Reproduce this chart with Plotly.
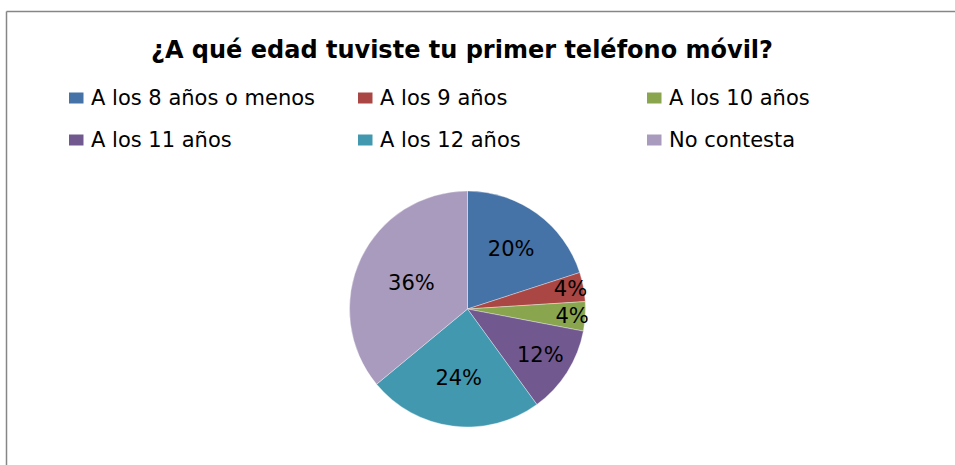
import plotly.graph_objects as go

W, H = 955, 465

title = "¿A qué edad tuviste tu primer teléfono móvil?"
categories = ["A los 8 años o menos", "A los 9 años", "A los 10 años",
              "A los 11 años", "A los 12 años", "No contesta"]
values = [20, 4, 4, 12, 24, 36]
colors = ["#4572A7", "#AA4643", "#89A54E", "#71588F", "#4198AF", "#A99BBD"]

FONT = "DejaVu Sans"


def px(x):
    return x / W


def py(y):
    return 1 - y / H


fig = go.Figure()
fig.add_trace(go.Pie(
    labels=categories,
    values=values,
    sort=False,
    direction="clockwise",
    rotation=0,
    marker=dict(colors=colors, line=dict(color="rgba(255,255,255,0.6)", width=0.6)),
    texttemplate="%{percent:.0%}",
    textposition="inside",
    insidetextorientation="horizontal",
    textfont=dict(family=FONT, size=21, color="#000000"),
    hoverinfo="label+percent",
    showlegend=False,
    domain=dict(x=[px(349.5), px(585.5)], y=[py(427), py(191)]),
))

shapes = []
annotations = []

# chart border: only the left and top edges are visible in the frame
border = dict(color="#868686", width=1.5)
shapes.append(dict(type="line", xref="paper", yref="paper",
                   x0=px(6.5), x1=px(6.5), y0=0, y1=py(11.5), line=border))
shapes.append(dict(type="line", xref="paper", yref="paper",
                   x0=px(6.5), x1=1, y0=py(11.5), y1=py(11.5), line=border))

# title
annotations.append(dict(text="<b>" + title + "</b>", xref="paper", yref="paper",
                        x=px(462), y=py(50), xanchor="center", yanchor="middle",
                        showarrow=False, font=dict(family=FONT, size=24, color="#000000")))

# custom legend (3 columns x 2 rows)
col_x = [69, 358, 647]
row_y = [98, 140]
for i, (lab, col) in enumerate(zip(categories, colors)):
    r, c = divmod(i, 3)
    x0 = col_x[c]
    yc = row_y[r]
    shapes.append(dict(type="rect", xref="paper", yref="paper",
                       x0=px(x0), x1=px(x0 + 14.5), y0=py(yc + 5.5), y1=py(yc - 5.5),
                       line=dict(width=0), fillcolor=col))
    annotations.append(dict(text=lab, xref="paper", yref="paper",
                            x=px(x0 + 20), y=py(yc), xanchor="left", yanchor="middle",
                            showarrow=False, font=dict(family=FONT, size=21, color="#000000")))

fig.update_layout(
    width=W, height=H,
    margin=dict(l=0, r=0, t=0, b=0),
    paper_bgcolor="#FFFFFF",
    plot_bgcolor="#FFFFFF",
    shapes=shapes,
    annotations=annotations,
    uniformtext=dict(minsize=21, mode="show"),
)

fig.write_html(
    "out.html",
    config={"displayModeBar": False},
    post_script="document.body.style.margin='0';document.body.style.overflow='hidden';",
)
